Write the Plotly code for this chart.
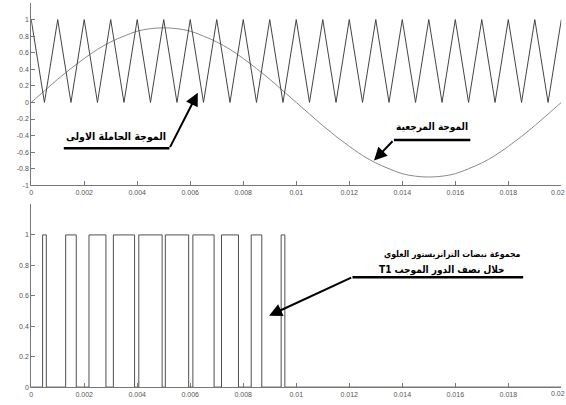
import plotly.graph_objects as go

W, H = 566, 405

# ---------------- data ----------------
# time axis samples for top plot (every 0.5 ms)
t_top = [round(i * 0.0005, 4) for i in range(41)]
# triangular carrier (peaks 1 at each ms, valleys 0 at half ms)
carrier = [1, 0, 1, 0, 1, 0, 1, 0, 1, 0,
           1, 0, 1, 0, 1, 0, 1, 0, 1, 0,
           1, 0, 1, 0, 1, 0, 1, 0, 1, 0,
           1, 0, 1, 0, 1, 0, 1, 0, 1, 0, 1]
# reference sine (peak ~0.9)
reference = [0.00, 0.14, 0.28, 0.41, 0.53, 0.64, 0.73, 0.80, 0.86, 0.89,
             0.90, 0.89, 0.86, 0.80, 0.73, 0.64, 0.53, 0.41, 0.28, 0.14,
             0.00, -0.14, -0.28, -0.41, -0.53, -0.64, -0.73, -0.80, -0.86, -0.89,
             -0.90, -0.89, -0.86, -0.80, -0.73, -0.64, -0.53, -0.41, -0.28, -0.14,
             0.00]
# T1 pulses (start, end) in seconds
pulse_start = [0.00043, 0.00130, 0.00218, 0.00310, 0.00406, 0.00506, 0.00610, 0.00718, 0.00830, 0.00943]
pulse_end   = [0.00057, 0.00170, 0.00282, 0.00390, 0.00494, 0.00594, 0.00690, 0.00782, 0.00870, 0.00957]

x_ticks = [0, 0.002, 0.004, 0.006, 0.008, 0.01, 0.012, 0.014, 0.016, 0.018, 0.02]
x_ticklabels = ["0", "0.002", "0.004", "0.006", "0.008", "0.01", "0.012", "0.014", "0.016", "0.018", "0.02"]
y1_ticks = [-1, -0.8, -0.6, -0.4, -0.2, 0, 0.2, 0.4, 0.6, 0.8, 1]
y1_ticklabels = ["-1", "-0.8", "-0.6", "-0.4", "-0.2", "0", "0.2", "0.4", "0.6", "0.8", "1"]
y2_ticks = [0, 0.2, 0.4, 0.6, 0.8, 1]
y2_ticklabels = ["0", "0.2", "0.4", "0.6", "0.8", "1"]

label_carrier = "الموجة الحاملة الاولى"
label_reference = "الموجة المرجعية"
label_pulses_1 = "مجموعة نبضات الترانزيستور العلوي"
label_pulses_2 = "T1 خلال نصف الدور الموجب"

# ---------------- build pulse train ----------------
px_t, px_v = [0.0], [0]
for s, e in zip(pulse_start, pulse_end):
    px_t += [s, s, e, e]
    px_v += [0, 1, 1, 0]
px_t.append(0.02)
px_v.append(0)

# ---------------- figure ----------------
def PX(x):
    return x / W

def PY(y):
    return 1 - y / H

fig = go.Figure()
fig.add_trace(go.Scatter(x=t_top, y=reference, mode="lines", line=dict(color="#8a8a8a", width=1, shape="spline"),
                         xaxis="x", yaxis="y", hoverinfo="skip"))
fig.add_trace(go.Scatter(x=t_top, y=carrier, mode="lines", line=dict(color="#444444", width=1),
                         xaxis="x", yaxis="y", hoverinfo="skip"))
fig.add_trace(go.Scatter(x=px_t, y=px_v, mode="lines", line=dict(color="#505050", width=1),
                         xaxis="x2", yaxis="y2", hoverinfo="skip"))

tickfont = dict(family="Liberation Sans, Arial, sans-serif", size=7, color="#555555")
axis_common = dict(showline=True, linecolor="#777777", linewidth=1, ticks="inside", ticklen=4,
                   tickcolor="#777777", tickfont=tickfont, showgrid=False, zeroline=False, mirror=False)

# last x label is placed separately (right-aligned) so that it stays inside the page
x_ticklabels_shown = x_ticklabels[:-1] + [""]

x_dom = [PX(29.3), PX(561.3)]
fig.update_layout(
    width=W, height=H, autosize=False,
    margin=dict(l=0, r=0, t=0, b=0),
    paper_bgcolor="white", plot_bgcolor="white",
    showlegend=False,
    xaxis=dict(domain=x_dom, range=[0, 0.02], tickvals=x_ticks, ticktext=x_ticklabels_shown,
               anchor="y", **axis_common),
    yaxis=dict(domain=[PY(186.7), PY(3)], range=[-1, 1.2], tickvals=y1_ticks, ticktext=y1_ticklabels,
               anchor="x", **axis_common),
    xaxis2=dict(domain=x_dom, range=[0, 0.02], tickvals=x_ticks, ticktext=x_ticklabels_shown,
                anchor="y2", **axis_common),
    yaxis2=dict(domain=[PY(390), PY(206)], range=[0, 1.2], tickvals=y2_ticks, ticktext=y2_ticklabels,
                anchor="x2", **axis_common),
)

for cy in (193.5, 396.8):
    fig.add_annotation(xref="paper", yref="paper", x=1.0, y=PY(cy), text=x_ticklabels[-1],
                       showarrow=False, font=tickfont, xanchor="right", yanchor="middle", borderpad=0)

afamily = "DejaVu Sans Condensed, DejaVu Sans, Arial, sans-serif"

def text(label, cx, cy, size):
    fig.add_annotation(xref="paper", yref="paper", x=PX(cx), y=PY(cy), text="<b>" + label + "</b>",
                       showarrow=False, font=dict(family=afamily, size=size, color="black"),
                       xanchor="center", yanchor="middle")

def underline(x0, x1, y):
    fig.add_shape(type="line", xref="paper", yref="paper", x0=PX(x0), x1=PX(x1), y0=PY(y), y1=PY(y),
                  line=dict(color="black", width=2.5))

def arrow(tx, ty, tipx, tipy):
    fig.add_annotation(xref="paper", yref="paper", x=PX(tipx), y=PY(tipy), ax=tx - tipx, ay=ty - tipy,
                       axref="pixel", ayref="pixel", text="", showarrow=True,
                       arrowhead=2, arrowsize=1.3, arrowwidth=2, arrowcolor="black")

text(label_carrier, 114, 138, 10.5)
underline(62, 168, 149.3)
arrow(168, 149.3, 196.5, 93.5)

text(label_reference, 431.5, 127.5, 10)
underline(393.3, 470, 141)
arrow(393.3, 141, 373.3, 161.7)

text(label_pulses_1, 452, 256, 8.7)
text(label_pulses_2, 442, 272, 10)
underline(351.7, 523, 279.3)
arrow(351.7, 279.3, 268, 318)

fig.write_html("out.html", config={"displayModeBar": False, "staticPlot": True},
               post_script="document.body.style.margin='0';document.body.style.padding='0';")
